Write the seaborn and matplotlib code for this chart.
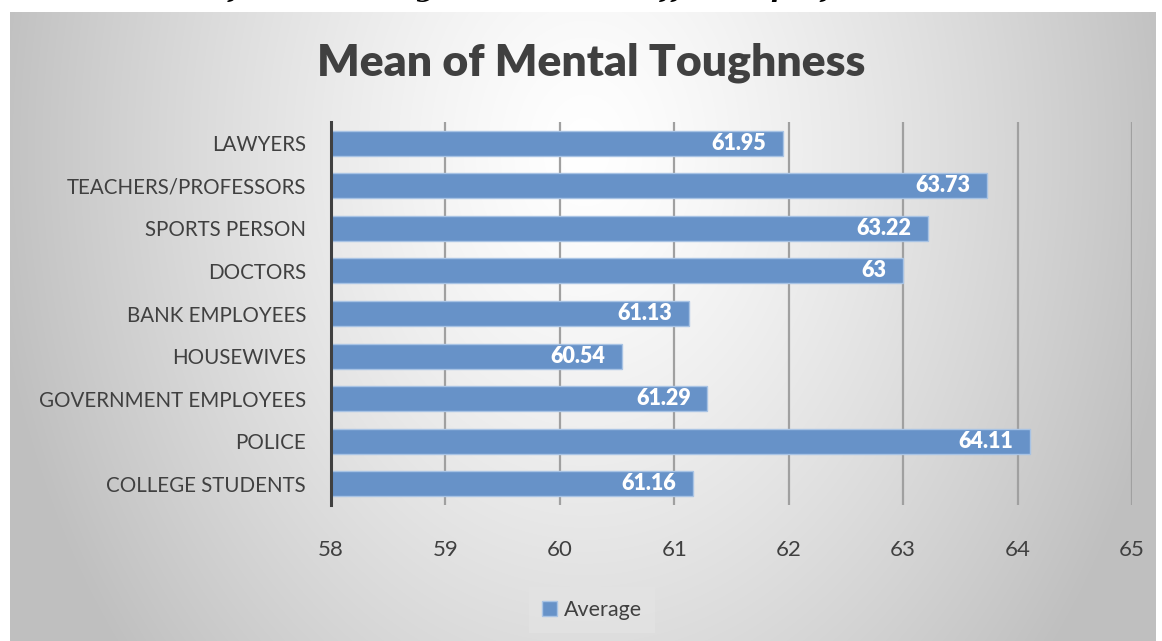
import numpy as np
import pandas as pd
import seaborn as sns
import matplotlib.pyplot as plt

# data
categories = ["LAWYERS", "TEACHERS/PROFESSORS", "SPORTS PERSON", "DOCTORS",
              "BANK EMPLOYEES", "HOUSEWIVES", "GOVERNMENT EMPLOYEES", "POLICE",
              "COLLEGE STUDENTS"]
averages = [61.95, 63.73, 63.22, 63.0, 61.13, 60.54, 61.29, 64.11, 61.16]
value_labels = ["61.95", "63.73", "63.22", "63", "61.13", "60.54", "61.29", "64.11", "61.16"]
x_ticks = [58, 59, 60, 61, 62, 63, 64, 65]

df = pd.DataFrame({"group": categories, "avg": averages})

sns.set_theme(style="white")
plt.rcParams["font.family"] = ["Lato", "DejaVu Sans"]

W, H = 1162, 641
fig = plt.figure(figsize=(W / 100, H / 100), dpi=100)

# background panel with a soft radial gradient
bg = fig.add_axes([0, 0, 1, 1], zorder=-10)
yy, xx = np.mgrid[0:H, 0:W]
r = np.sqrt(((xx - 585) / 600.0) ** 2 + ((yy - 150) / 800.0) ** 2)
shade = 1.0 - 0.25 * np.clip(r, 0, 1) ** 1.3
img = np.dstack([shade] * 3)
img[:12, :, :] = 1.0
img[:, :10, :] = 1.0
img[:, 1156:, :] = 1.0
bg.imshow(img, extent=[0, W, H, 0], aspect="auto")
bg.axis("off")

# cropped caption above the chart (only descenders visible in the source)
fig.text(-6 / W, 1 + 2.5 / H, "Table 1: Mean of Mental Toughness across different professions",
         family="DejaVu Serif", weight="bold", style="italic", fontsize=19,
         va="baseline", ha="left", color="black")

ax = fig.add_axes([331 / W, 1 - 505 / H, (1132 - 331) / W, (505 - 122) / H])
ax.set_facecolor("none")

sns.barplot(data=df, y="group", x="avg", orient="h", color="#6792c8",
            saturation=1, width=0.59, edgecolor="#a8c3e4", linewidth=1,
            label="Average", ax=ax, zorder=3)

ax.set_xlim(58, 65)
ax.set_ylim(8.5, -0.5)
ax.set_xticks(x_ticks)
ax.set_xticklabels([str(t) for t in x_ticks])
ax.xaxis.grid(True, color="#a0a0a0", linewidth=1.6, zorder=0)
ax.set_axisbelow(True)
ax.set_xlabel("")
ax.set_ylabel("")
for s in ["top", "right", "bottom"]:
    ax.spines[s].set_visible(False)
ax.spines["left"].set_color("#404040")
ax.spines["left"].set_linewidth(2.2)
ax.spines["left"].set_zorder(5)
ax.tick_params(axis="both", length=0, colors="#404040")
ax.tick_params(axis="y", pad=18, labelsize=14.8)
ax.tick_params(axis="x", pad=25, labelsize=16)

for i, (v, lab) in enumerate(zip(averages, value_labels)):
    ax.annotate(lab, (v, i), xytext=(-12, 0), textcoords="offset points",
                ha="right", va="center", color="white", fontsize=15.5,
                fontweight="heavy", zorder=6)

fig.text(591 / W, 1 - 63 / H, "Mean of Mental Toughness", ha="center", va="center",
         fontsize=32, fontweight="heavy", color="#404040")

if ax.legend_:
    ax.legend_.remove()
leg = fig.legend(loc="center", bbox_to_anchor=(592 / W, 1 - 610 / H), frameon=True,
                 fontsize=15.5, handlelength=0.7, handleheight=0.7, handletextpad=0.3,
                 borderpad=0.6, fancybox=False)
leg.get_frame().set_facecolor("#e3e3e3")
leg.get_frame().set_edgecolor("none")
for t in leg.get_texts():
    t.set_color("#404040")

fig.savefig("out.png", dpi=100)
